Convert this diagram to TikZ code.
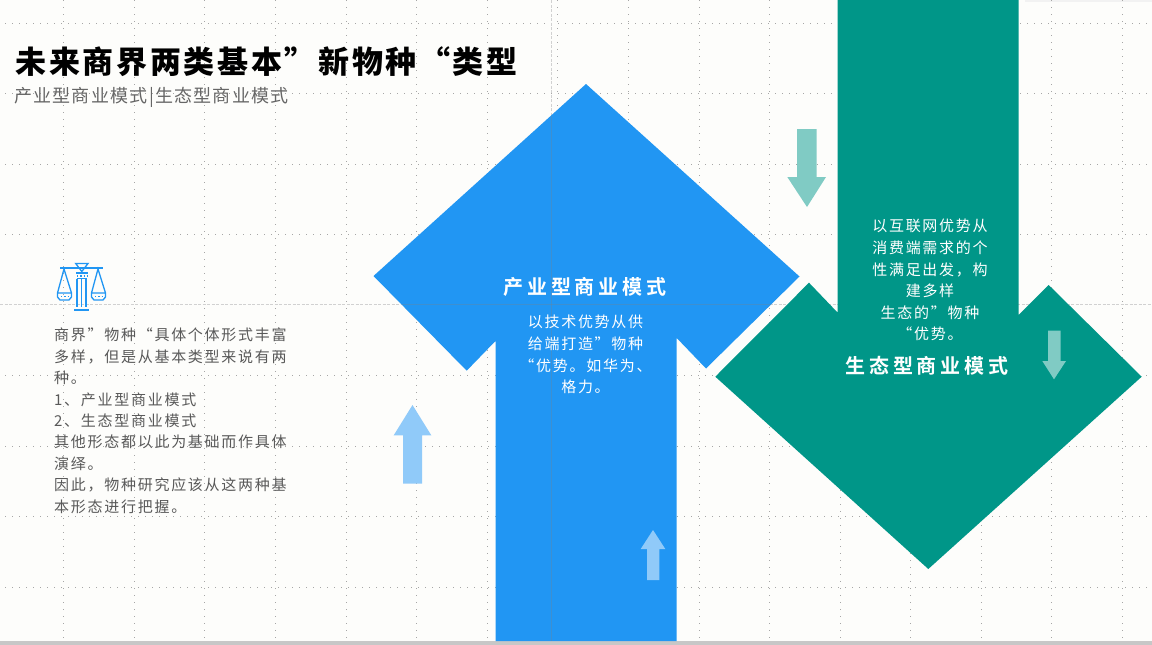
\documentclass[tikz,border=0pt]{standalone}
\usepackage{xcolor}
\usepackage{fontspec}
\newfontfamily\cjktitle[LetterSpace=8.5,BoldFont={Noto Sans CJK SC Black}]{Noto Sans CJK SC}
\newfontfamily\cjkhead[LetterSpace=19,BoldFont={Noto Sans CJK SC Bold}]{Noto Sans CJK SC}
\newfontfamily\cjkbody[LetterSpace=11.5]{Noto Sans CJK SC}
\newfontfamily\cjksub[LetterSpace=7]{Noto Sans CJK SC}
\definecolor{paper}{HTML}{FDFDFB}
\definecolor{blueArrow}{HTML}{2196F3}
\definecolor{greenArrow}{HTML}{009688}
\definecolor{blueLight}{HTML}{90CAF9}
\definecolor{greenLight}{HTML}{80CBC4}
\tikzset{
    griddot/.style={black!35, line width=0.6pt, dash pattern=on 0.8pt off 6.2pt},
    guide/.style={black!18, line width=1pt, dash pattern=on 3pt off 1.5pt},
    titletext/.style={inner sep=0, anchor=west, font=\cjktitle\bfseries\fontsize{31}{31}\selectfont},
    subtext/.style={inner sep=0, anchor=west, text=black!60, font=\cjksub\fontsize{18}{18}\selectfont},
    bodytext/.style={inner sep=0, align=left, text=black!65, font=\cjkbody\fontsize{15}{21.4}\selectfont},
    whitetext/.style={inner sep=0, align=center, text=white, font=\cjkbody\fontsize{15}{21.6}\selectfont},
    headtext/.style={inner sep=0, text=white, font=\cjkhead\bfseries\fontsize{20}{20}\selectfont},
    iconline/.style={blueArrow, line width=1.3pt},
}

\begin{document}
\begin{tikzpicture}[x=1pt,y=-1pt]
    \useasboundingbox (0,0) rectangle (1152,645);
    \fill [paper] (0,0) rectangle (1152,645);
    \fill [black!5] (1025,0) rectangle (1152,2);
    \foreach \yy in {23,93.5,164,234.5,375.5,446,516.5,587}
        \draw [griddot] (5,\yy) -- (1152,\yy);
    \foreach \xx in {63.5,134,204.6,275.2,345.8,416.4,487,557.6,628.2,698.8,769.4,840,910.6,981.2,1051.4,1122}
        \draw [griddot] (\xx,0) -- (\xx,638);
    \draw [guide] (0,304.5) -- (1152,304.5);
    \draw [guide] (551,0) -- (551,641);
    \fill [black!22] (0,641) rectangle (1152,645);
    % big arrows
    \fill [blueArrow] (586,84) -- (799.5,276.5) -- (706,368.5) -- (676.7,338) -- (676.7,641) %
        -- (495.5,641) -- (495.5,341) -- (466.7,370.7) -- (373.5,276) -- cycle;
    \draw [black!50, opacity=.3, line width=0.8pt] (551,115.6) -- (551,641);
    \draw [black!50, opacity=.3, line width=0.8pt] (401.5,304.5) -- (771,304.5);
    \fill [greenArrow] (837.7,0) -- (1018.7,0) -- (1018.7,315) -- (1048.7,285) -- (1141.7,376.7) %
        -- (928.3,569) -- (715.3,376.7) -- (809,282.7) -- (837.7,312.7) -- cycle;
    % small arrows
    \fill [greenLight] (797,129) -- (816.7,129) -- (816.7,177) -- (826,177) -- (807,207) %
        -- (787.3,177) -- (797,177) -- cycle;
    \fill [greenLight] (1048,330.7) -- (1060.7,330.7) -- (1060.7,361) -- (1066,361) -- (1054,379.3) %
        -- (1042.3,361) -- (1048,361) -- cycle;
    \fill [blueLight] (403,483.7) -- (422,483.7) -- (422,435.3) -- (431.3,435.3) -- (412.5,405) %
        -- (393.7,435.3) -- (403,435.3) -- cycle;
    \fill [blueLight] (647,580) -- (659.3,580) -- (659.3,549) -- (665.3,549) -- (653,530) %
        -- (640.7,549) -- (647,549) -- cycle;
    % scales icon
    \draw [iconline] (60,268) -- (102.7,268);
    \draw [iconline] (75.7,263.5) -- (88,263.5) -- (81.8,271.5) -- cycle;
    \draw [iconline] (76,273) -- (87.5,273);
    \draw [iconline, dotted] (77,276) -- (87,276);
    \draw [iconline] (76.5,278.5) -- (86.5,278.5);
    \draw [iconline] (77,278.5) -- (77,307) (81.5,278.5) -- (81.5,307) (86,278.5) -- (86,307);
    \draw [iconline, line width=1.8pt] (74.3,310) -- (88.7,310);
    \draw [iconline] (64,269) -- (57.5,293) -- (57.5,297) -- (60,300) -- (69,300) -- (71.5,297) %
        -- (71.5,293) -- cycle (57.5,293) -- (71.5,293);
    \draw [iconline] (98,269) -- (91.5,293) -- (91.5,297) -- (94,300) -- (103,300) -- (105.5,297) %
        -- (105.5,293) -- cycle (91.5,293) -- (105.5,293);
    \draw [iconline, dotted] (61,296.5) -- (69,296.5) (95,296.5) -- (103,296.5);
    % texts
    \node [titletext] (title) at (15.5,62) {未来商界两类基本”新物种“类型};
    \node [subtext] (subtitle) at (14,97) {产业型商业模式|生态型商业模式};
    \node [bodytext, anchor=north west] (intro) at (54,328) {商界”物种“具体个体形式丰富\\
        多样，但是从基本类型来说有两\\
        种。\\
        1、产业型商业模式\\
        2、生态型商业模式\\
        其他形态都以此为基础而作具体\\
        演绎。\\
        因此，物种研究应该从这两种基\\
        本形态进行把握。};
    \node [headtext] (bluehead) at (585,287) {产业型商业模式};
    \node [whitetext, anchor=north] (bluebody) at (585.5,315) {以技术优势从供\\
        给端打造”物种\\
        “优势。如华为、\\
        格力。};
    \node [headtext] (greenhead) at (927,366) {生态型商业模式};
    \node [whitetext, anchor=north] (greenbody) at (930,219) {以互联网优势从\\
        消费端需求的个\\
        性满足出发，构\\
        建多样\\
        生态的”物种\\
        “优势。};
\end{tikzpicture}
\end{document}
